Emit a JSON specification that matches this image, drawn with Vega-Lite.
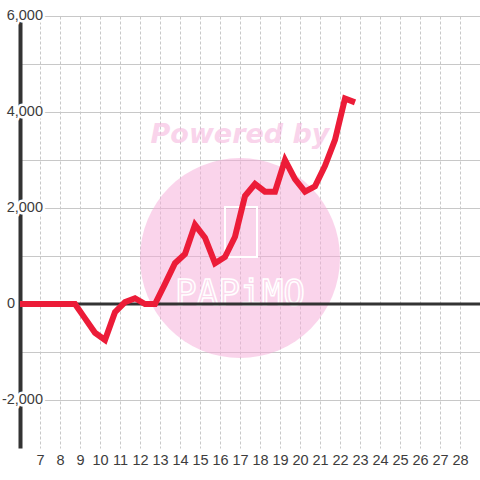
{
  "$schema": "https://vega.github.io/schema/vega-lite/v6.json",
  "width": 460,
  "height": 432,
  "autosize": "none",
  "padding": {"left": 20, "top": 16, "right": 0, "bottom": 32},
  "background": "white",
  "config": {
    "view": {"stroke": null},
    "axisX": {
      "title": null,
      "domain": false, "ticks": false, "grid": true, "gridColor": "#c8c8c8", "gridDash": [3, 2], "gridWidth": 1,
      "labelFont": "Liberation Sans", "labelFontSize": 14.5, "labelColor": "#3c3c3c", "labelPadding": 5,
      "labelFlush": false, "labelOverlap": false
    },
    "axisY": {
      "title": null,
      "labels": false, "ticks": false, "grid": true, "gridColor": "#c8c8c8", "gridWidth": 1,
      "domain": true, "domainColor": "#333333", "domainWidth": 4
    },
    "locale": {"number": {"decimal": ".", "thousands": ",", "grouping": [3], "currency": ["$", ""], "minus": "-"}}
  },
  "datasets": {
    "series": [
      {"t": 5.75, "v": 0}, {"t": 6.25, "v": 0}, {"t": 6.75, "v": 0}, {"t": 7.25, "v": 0},
      {"t": 7.75, "v": 0}, {"t": 8.25, "v": 0}, {"t": 8.75, "v": 0}, {"t": 9.25, "v": -300},
      {"t": 9.75, "v": -600}, {"t": 10.25, "v": -750}, {"t": 10.75, "v": -170}, {"t": 11.25, "v": 40},
      {"t": 11.75, "v": 120}, {"t": 12.25, "v": 0}, {"t": 12.75, "v": 0}, {"t": 13.25, "v": 420},
      {"t": 13.75, "v": 850}, {"t": 14.25, "v": 1040}, {"t": 14.75, "v": 1650}, {"t": 15.25, "v": 1380},
      {"t": 15.75, "v": 850}, {"t": 16.25, "v": 980}, {"t": 16.75, "v": 1400}, {"t": 17.25, "v": 2250},
      {"t": 17.75, "v": 2500}, {"t": 18.25, "v": 2340}, {"t": 18.75, "v": 2340}, {"t": 19.25, "v": 3000},
      {"t": 19.75, "v": 2600}, {"t": 20.25, "v": 2340}, {"t": 20.75, "v": 2450}, {"t": 21.25, "v": 2880},
      {"t": 21.75, "v": 3420}, {"t": 22.25, "v": 4280}, {"t": 22.75, "v": 4200}
    ],
    "ylabels": [{"v": -2000}, {"v": 0}, {"v": 2000}, {"v": 4000}, {"v": 6000}],
    "one": [{}]
  },
  "layer": [
    {
      "data": {"name": "one"},
      "mark": {"type": "point", "shape": "circle", "filled": true, "size": 40000, "color": "#f5aad8", "opacity": 0.5},
      "encoding": {
        "x": {"datum": 17, "type": "quantitative"},
        "y": {"datum": 958, "type": "quantitative"}
      }
    },
    {
      "data": {"name": "one"},
      "mark": {"type": "text", "text": "Powered by", "font": "DejaVu Sans", "fontWeight": "bold", "fontStyle": "italic", "fontSize": 27, "align": "center", "baseline": "alphabetic", "color": "#f5aad8", "opacity": 0.5},
      "encoding": {
        "x": {"datum": 17, "type": "quantitative"},
        "y": {"datum": 3354, "type": "quantitative"}
      }
    },
    {
      "data": {"name": "one"},
      "mark": {"type": "point", "shape": "M-0.64,-1H0.64V1H-0.64Z", "filled": false, "size": 2500, "stroke": "white", "strokeWidth": 2, "opacity": 1},
      "encoding": {
        "x": {"datum": 17.05, "type": "quantitative"},
        "y": {"datum": 1500, "type": "quantitative"}
      }
    },
    {
      "data": {"name": "one"},
      "mark": {"type": "text", "text": "PAPiMO", "font": "DejaVu Sans Mono", "fontSize": 36, "align": "center", "baseline": "alphabetic", "fill": "#fbd8ec", "stroke": "white", "strokeWidth": 1.5},
      "encoding": {
        "x": {"datum": 17, "type": "quantitative"},
        "y": {"datum": -20, "type": "quantitative"}
      }
    },
    {
      "data": {"name": "one"},
      "mark": {"type": "rule", "color": "#333333", "strokeWidth": 3},
      "encoding": {
        "y": {"datum": 0, "type": "quantitative"}
      }
    },
    {
      "data": {"name": "series"},
      "mark": {"type": "line", "color": "#ec1c38", "strokeWidth": 6, "strokeCap": "butt", "clip": true},
      "encoding": {
        "x": {
          "field": "t", "type": "quantitative",
          "scale": {"domain": [6, 29], "nice": false, "zero": false},
          "axis": {"title": null, "values": [7, 8, 9, 10, 11, 12, 13, 14, 15, 16, 17, 18, 19, 20, 21, 22, 23, 24, 25, 26, 27, 28], "tickCount": 22, "format": "d", "labelOverlap": false}
        },
        "y": {
          "field": "v", "type": "quantitative",
          "scale": {"domain": [-3000, 6000], "nice": false, "zero": false},
          "axis": {"title": null, "values": [-2000, -1000, 0, 1000, 2000, 3000, 4000, 5000, 6000], "tickCount": 9}
        }
      }
    },
    {
      "data": {"name": "ylabels"},
      "transform": [{"filter": "datum.v != 0"}],
      "mark": {"type": "text", "align": "right", "baseline": "middle", "dx": 23, "font": "Liberation Sans", "fontSize": 14.5, "fill": "white", "stroke": "white", "strokeWidth": 5},
      "encoding": {
        "x": {"datum": 6, "type": "quantitative"},
        "y": {"field": "v", "type": "quantitative"},
        "text": {"field": "v", "type": "quantitative", "format": ","}
      }
    },
    {
      "data": {"name": "ylabels"},
      "transform": [{"filter": "datum.v != 0"}],
      "mark": {"type": "text", "align": "right", "baseline": "middle", "dx": 23, "font": "Liberation Sans", "fontSize": 14.5, "color": "#3c3c3c"},
      "encoding": {
        "x": {"datum": 6, "type": "quantitative"},
        "y": {"field": "v", "type": "quantitative"},
        "text": {"field": "v", "type": "quantitative", "format": ","}
      }
    },
    {
      "data": {"name": "ylabels"},
      "transform": [{"filter": "datum.v == 0"}],
      "mark": {"type": "text", "align": "right", "baseline": "middle", "dx": -5, "font": "Liberation Sans", "fontSize": 14.5, "color": "#3c3c3c"},
      "encoding": {
        "x": {"datum": 6, "type": "quantitative"},
        "y": {"field": "v", "type": "quantitative"},
        "text": {"field": "v", "type": "quantitative", "format": ","}
      }
    }
  ]
}
